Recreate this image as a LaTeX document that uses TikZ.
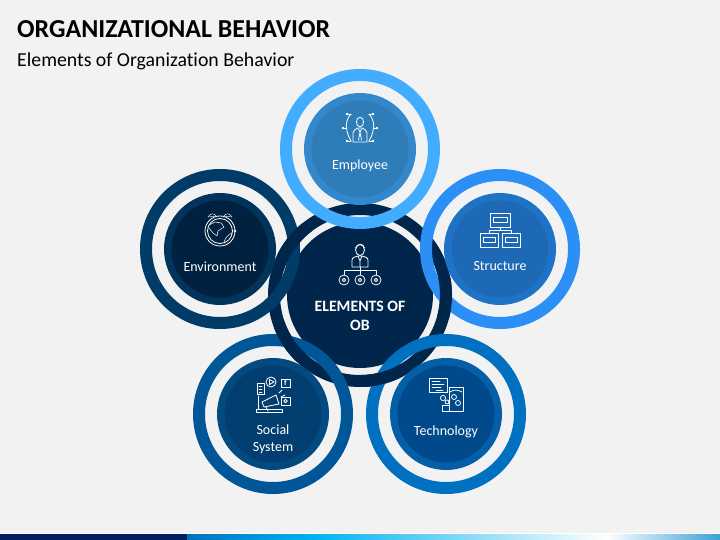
\documentclass[tikz,border=0pt]{standalone}
\usepackage{fontspec}
\setmainfont{Carlito}[Ligatures=NoCommon]
\usepackage{tikz}
\usetikzlibrary{positioning}

\definecolor{slidebg}{HTML}{F2F2F2}
\definecolor{coreblue}{HTML}{00264B}
\definecolor{empA}{HTML}{42ACFF}
\definecolor{empB}{HTML}{3388CC}
\definecolor{empC}{HTML}{2E7DB8}
\definecolor{envA}{HTML}{013C69}
\definecolor{envB}{HTML}{02335A}
\definecolor{envC}{HTML}{00213F}
\definecolor{strA}{HTML}{2B8FF5}
\definecolor{strB}{HTML}{1F73C6}
\definecolor{strC}{HTML}{1D69B5}
\definecolor{socA}{HTML}{015697}
\definecolor{socB}{HTML}{024A80}
\definecolor{socC}{HTML}{023F70}
\definecolor{tecA}{HTML}{0070C0}
\definecolor{tecB}{HTML}{045EA8}
\definecolor{tecC}{HTML}{00498A}
\definecolor{barA}{HTML}{002060}
\definecolor{barB}{HTML}{0070C0}
\definecolor{barC}{HTML}{00B0F0}
\definecolor{barD}{HTML}{3CA0D8}

\begin{document}
\begin{tikzpicture}[
    x=1pt,y=-1pt,
    ring/.style={circle,draw,line width=12pt,minimum size=148pt,inner sep=0pt,outer sep=0pt},
    corering/.style={circle,draw=coreblue,line width=12pt,minimum size=172pt,inner sep=0pt,outer sep=0pt},
    disc/.style={circle,minimum size=112pt,inner sep=0pt,outer sep=0pt},
    subdisc/.style={circle,minimum size=97pt,inner sep=0pt,outer sep=0pt},
    caption/.style={text=white,font=\fontsize{14}{17}\selectfont,align=center,inner sep=0pt},
    icon/.style={draw=white,line width=0.8pt,line join=round,line cap=round}
]
    % Slide background
    \fill[slidebg] (0,0) rectangle (720,540);
    \useasboundingbox (0,0) rectangle (720,540);

    % Title
    \node[anchor=base west,inner sep=0pt,font=\fontsize{25.9}{30}\selectfont\bfseries] (title) at (17,38) {ORGANIZATIONAL BEHAVIOR};
    \node[anchor=base west,inner sep=0pt,font=\fontsize{19.8}{22}\selectfont] (subtitle) at (17,66.5) {Elements of Organization Behavior};

    % Bottom bar
    \fill[white] (0,533) rectangle (720,534);
    \fill[barA] (0,534) rectangle (187,540);
    \shade[left color=barB,right color=barC] (187,534) rectangle (310,540);
    \shade[left color=barC,right color=white] (310,534) rectangle (606,540);
    \shade[left color=white,right color=barD] (606,534) rectangle (720,540);

    % Centre
    \node[corering] (corering) at (360,295) {};
    \node[circle,fill=coreblue,minimum size=146pt,inner sep=0pt,outer sep=0pt] (coredisc) at (360,295) {};

    % Outer rings
    \node[ring,draw=empA] (empring) at (360,149) {};
    \node[ring,draw=envA] (envring) at (220,249) {};
    \node[ring,draw=strA] (strring) at (500,249) {};
    \node[ring,draw=socA] (socring) at (273,414) {};
    \node[ring,draw=tecA] (tecring) at (446,414) {};

    % Centre ring passes over at these crossings
    \foreach \spotx/\spoty/\tag in {294/242/a,445/298/b,289/342/c,383/377/d} {
        \begin{scope}
            \clip (\spotx,\spoty) circle (21);
            \node[corering] (coreover\tag) at (360,295) {};
        \end{scope}
    }

    % Employee
    \node[disc,fill=empB] (empdisc) at (360,149) {};
    \node[subdisc,fill=empC] (empsub) at (360,149) {};
    \node[caption] (emptext) at (360,165.5) {Employee};

    % Environment
    \node[disc,fill=envB] (envdisc) at (220,249) {};
    \node[subdisc,fill=envC] (envsub) at (220,249) {};
    \node[caption] (envtext) at (220,266.5) {Environment};

    % Structure
    \node[disc,fill=strB] (strdisc) at (500,249) {};
    \node[subdisc,fill=strC] (strsub) at (500,249) {};
    \node[caption] (strtext) at (500,266.5) {Structure};

    % Social System
    \node[disc,fill=socB] (socdisc) at (273,414) {};
    \node[subdisc,fill=socC] (socsub) at (273,414) {};
    \node[caption] (soctext) at (273,439.5) {Social\\System};

    % Technology
    \node[disc,fill=tecB] (tecdisc) at (446,414) {};
    \node[subdisc,fill=tecC] (tecsub) at (446,414) {};
    \node[caption] (tectext) at (446,431.5) {Technology};

    % Centre text
    \node[caption,font=\fontsize{15.8}{19}\selectfont\bfseries] (coretext) at (360,316) {ELEMENTS OF\\OB};

    % Icon: employee
    \begin{scope}[shift={(360,128)}]
        \draw[icon] (0,-6) ellipse (3.6 and 4.8);
        \draw[icon] (-7,14) -- (-7,5) .. controls (-7,2) and (-4,1) .. (-2,0) -- (2,0) .. controls (4,1) and (7,2) .. (7,5) -- (7,14) -- cycle;
        \draw[icon] (-1.5,1) -- (0,4) -- (1.5,1) (0,4) -- (-1.5,12) (0,4) -- (1.5,12);
        \draw[icon] (-9,-14) .. controls (-13,-10) and (-15,-3) .. (-13,3) .. controls (-12,7) and (-11,10) .. (-9,13);
        \draw[icon] (9,-14) .. controls (13,-10) and (15,-3) .. (13,3) .. controls (12,7) and (11,10) .. (9,13);
        \draw[icon] (-13,-14) -- (-9,-14) (13,-14) -- (9,-14) (-13,13) -- (-9,13) (13,13) -- (9,13);
        \draw[icon] (-17,0) -- (-14,0) (17,0) -- (14,0);
        \fill[white] (-13,-14) circle (1.3) (13,-14) circle (1.3) (-13,13) circle (1.3) (13,13) circle (1.3) (-17,0) circle (1.3) (17,0) circle (1.3);
    \end{scope}

    % Icon: environment
    \begin{scope}[shift={(220,230)}]
        \draw[icon] (0,1) circle (15);
        \draw[icon] (0,1) circle (12.5);
        \draw[icon,line width=0.4pt] (-12,-13) .. controls (-10,-17) and (-5,-17) .. (-4,-14);
        \draw[icon,line width=0.4pt] (12,-13) .. controls (10,-17) and (5,-17) .. (4,-14);
        \draw[icon,line width=0.4pt] (-12,-13) -- (-4,-14) (12,-13) -- (4,-14);
        \draw[icon,line width=0.5pt] (-11,-5) -- (-5,-8) -- (1,-7) -- (4,-3) -- (-2,1) -- (-3,6) -- (-7,3) -- (-11,-2);
        \draw[icon,line width=0.5pt] (12,3) .. controls (9,4) and (5,8) .. (4,12);
        \fill[white] (15,1) circle (1.3);
    \end{scope}

    % Icon: structure
    \begin{scope}[shift={(500,230)}]
        \draw[icon] (-10,-17) rectangle (10,-3);
        \draw[icon] (-7,-13) rectangle (7,-8);
        \draw[icon] (-20,3) rectangle (-2,17);
        \draw[icon] (-17,7) rectangle (-5,12);
        \draw[icon] (2,3) rectangle (20,17);
        \draw[icon] (5,7) rectangle (17,12);
        \draw[icon] (0,-3) -- (0,0) (-11,3) -- (-11,0) -- (11,0) -- (11,3);
    \end{scope}

    % Icon: social system
    \begin{scope}[shift={(273,395)}]
        \draw[icon] (-16,-12) rectangle (-9,-1);
        \draw[icon,line width=0.5pt] (-14,-9) -- (-11,-9) (-14,-6) -- (-11,-6) (-14,-3) -- (-11,-3);
        \draw[icon] (-2,-13) circle (5);
        \draw[icon] (-3.5,-15.5) -- (1,-13) -- (-3.5,-10.5) -- cycle;
        \draw[icon] (8,-16) rectangle (17,-8);
        \node[text=white,inner sep=0pt,font=\fontsize{8}{8}\selectfont\bfseries] (fbmark) at (12.5,-12) {f};
        \draw[icon] (8,2) rectangle (17,10);
        \draw[icon] (12.5,6) circle (1.8);
        \draw[icon] (-15,1) -- (-15,14) -- (7,14);
        \draw[icon] (-17,14) rectangle (9,17);
        \draw[icon] (-11,7) -- (3,0) -- (6,9) -- (-9,12) -- cycle;
        \draw[icon] (-7,12) -- (-5,16);
        \draw[icon] (6,-2) -- (9,-5) (8,2) -- (12,0);
    \end{scope}

    % Icon: technology
    \begin{scope}[shift={(446,395)}]
        \draw[icon] (-17,-17) rectangle (1,-3);
        \draw[icon,line width=0.5pt] (-14,-14) -- (-6,-14) (-14,-11) -- (-2,-11) (-14,-8) -- (-5,-8) (-10,-5) -- (-3,-5);
        \draw[icon] (3,-8) rectangle (17,16);
        \draw[icon] (4,-3) .. controls (8,-6) and (12,-5) .. (16,-3);
        \draw[icon] (8,2) circle (2.5) (12,8) circle (2.5);
        \draw[icon] (-3,3) circle (2.6);
        \draw[icon] (1,7) circle (2);
        \draw[icon] (-4,10) rectangle (3,16);
    \end{scope}

    % Icon: centre
    \begin{scope}[shift={(360,263)}]
        \draw[icon] (0,-13) ellipse (4.5 and 5.5);
        \draw[icon] (-4.5,-15) .. controls (-2,-20) and (3,-20) .. (4.5,-15);
        \draw[icon] (-8,4) -- (-8,-3) .. controls (-8,-6) and (-4,-6) .. (-2,-7) -- (2,-7) .. controls (4,-6) and (8,-6) .. (8,-3) -- (8,4) -- cycle;
        \draw[icon] (-2,-7) -- (0,-2) -- (2,-7) (0,-2) -- (0,4);
        \draw[icon] (0,4) -- (0,12);
        \draw[icon] (-16,12) -- (-16,7) -- (16,7) -- (16,12);
        \draw[icon] (-16,17) circle (5) (0,17) circle (5) (16,17) circle (5);
        \draw[icon] (-16,17) circle (1.8) (0,17) circle (1.8) (16,17) circle (1.8);
    \end{scope}
\end{tikzpicture}
\end{document}
